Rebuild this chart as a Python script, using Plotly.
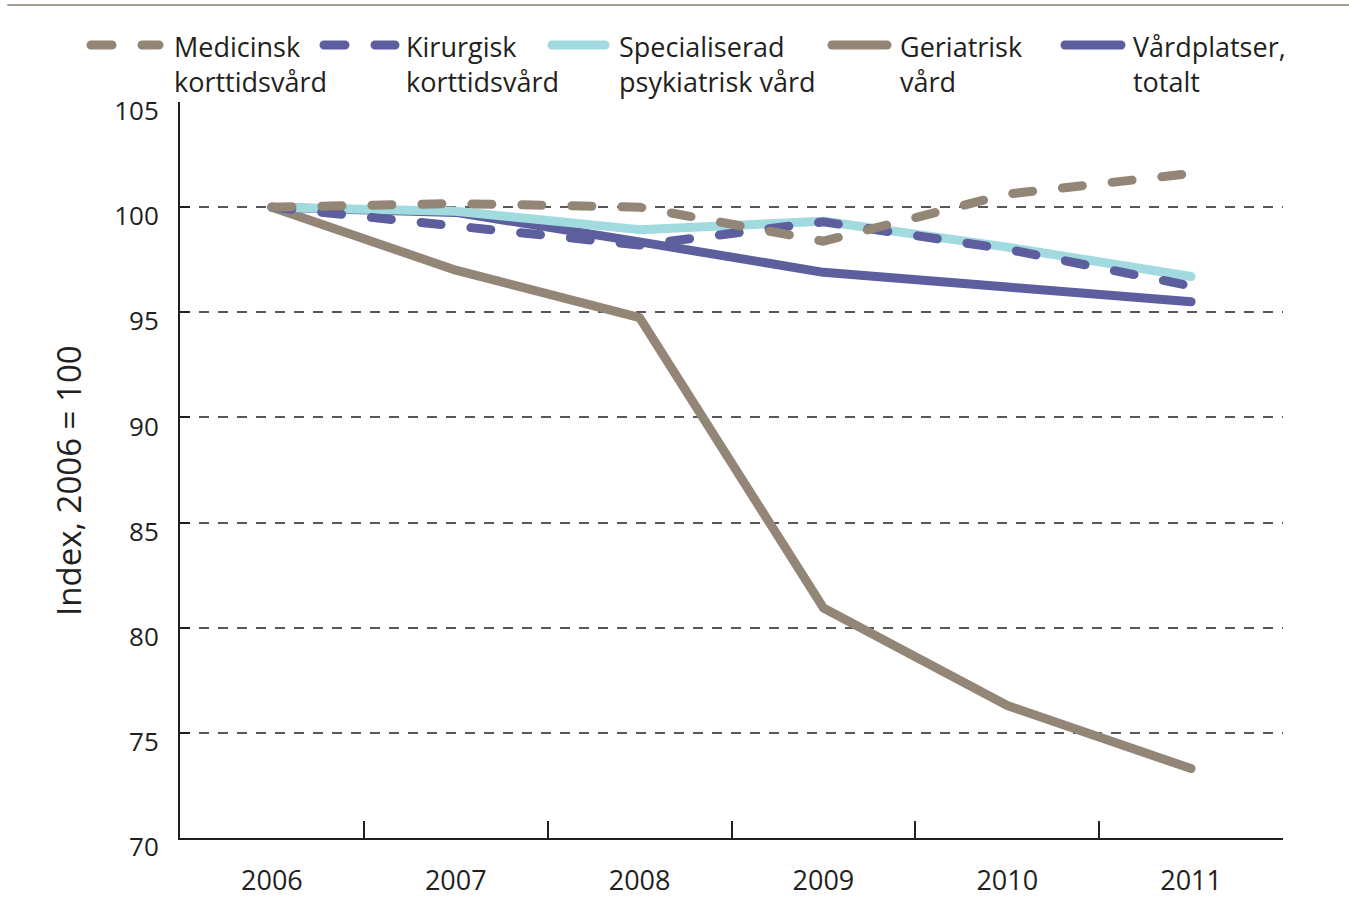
import plotly.graph_objects as go

years = ["2006", "2007", "2008", "2009", "2010", "2011"]
medicinsk = [100.0, 100.17, 100.0, 98.38, 100.62, 101.6]
kirurgisk = [100.0, 99.1, 98.2, 99.3, 98.0, 96.25]
specialiserad = [100.0, 99.8, 98.93, 99.33, 98.1, 96.7]
geriatrisk = [100.0, 97.0, 94.75, 80.94, 76.3, 73.3]
totalt = [100.0, 99.75, 98.35, 96.9, 96.2, 95.5]

series_names = ["Medicinsk<br>korttidsvård", "Kirurgisk<br>korttidsvård",
                "Specialiserad<br>psykiatrisk vård", "Geriatrisk<br>vård",
                "Vårdplatser,<br>totalt"]
y_ticks = [70, 75, 80, 85, 90, 95, 100, 105]

BROWN = "#938677"
BLUE = "#5c5e9e"
CYAN = "#a1dadf"
TEXT = "#231f20"
FONT = "Open Sans"

W, H = 1349, 905
L, R, T, B = 180, 66, 102, 67
PW = W - L - R
PH = H - T - B


def px2x(px):
    return (px - L) / PW


def px2y(py):
    return (H - B - py) / PH


fig = go.Figure()

# draw order: bottom -> top
order = [
    (3, geriatrisk, BROWN, "solid"),
    (4, totalt, BLUE, "solid"),
    (2, specialiserad, CYAN, "solid"),
    (1, kirurgisk, BLUE, "20px,30px"),
    (0, medicinsk, BROWN, "20px,30px"),
]
for idx, vals, col, dash in order:
    fig.add_trace(go.Scatter(
        x=years, y=vals, mode="lines", name=series_names[idx].replace("<br>", " "),
        line=dict(color=col, width=9, dash=dash),
        showlegend=False, hoverinfo="skip",
    ))

# custom legend
legend_items = [
    (series_names[0], BROWN, "21px,30px", 91, 159, 172),
    (series_names[1], BLUE, "21px,30px", 324, 395, 404),
    (series_names[2], CYAN, "solid", 552, 605, 617),
    (series_names[3], BROWN, "solid", 832, 887, 898),
    (series_names[4], BLUE, "solid", 1065, 1121, 1131),
]
shapes = []
annotations = []
for text, col, dash, x0, x1, tx in legend_items:
    shapes.append(dict(type="line", xref="paper", yref="paper",
                       x0=px2x(x0), x1=px2x(x1), y0=px2y(45), y1=px2y(45),
                       line=dict(color=col, width=9, dash=dash)))
    annotations.append(dict(text=text, xref="paper", yref="paper",
                            x=px2x(tx), y=px2y(64), xanchor="left", yanchor="middle",
                            align="left", showarrow=False,
                            font=dict(family=FONT, size=27, color=TEXT)))

# top rule
shapes.append(dict(type="line", xref="paper", yref="paper",
                   x0=px2x(8), x1=px2x(1349), y0=px2y(5), y1=px2y(5),
                   line=dict(color="#a89e94", width=2)))

# y-axis title
annotations.append(dict(text="Index, 2006 = 100", xref="paper", yref="paper",
                        x=px2x(68), y=px2y(481), xanchor="center", yanchor="middle",
                        textangle=-90, showarrow=False,
                        font=dict(family=FONT, size=33, color=TEXT)))

fig.update_layout(
    width=W, height=H,
    margin=dict(l=L, r=R, t=T, b=B, autoexpand=False),
    plot_bgcolor="white", paper_bgcolor="white",
    font=dict(family=FONT, color=TEXT),
    shapes=shapes, annotations=annotations,
    showlegend=False,
    xaxis=dict(
        type="category", range=[-0.5, 5.5], tickson="boundaries",
        ticks="inside", ticklen=17, tickwidth=2, tickcolor=TEXT,
        showline=True, linecolor=TEXT, linewidth=2,
        showgrid=False, zeroline=False,
        tickfont=dict(family=FONT, size=27, color=TEXT),
        ticklabelstandoff=18,
    ),
    yaxis=dict(
        range=[70, 105], tickvals=y_ticks, ticktext=[str(v) for v in y_ticks],
        ticks="inside", ticklen=10, tickwidth=2, tickcolor=TEXT,
        showline=True, linecolor=TEXT, linewidth=2,
        showgrid=True, gridcolor="#58585a", gridwidth=1.5, griddash="10px,9px",
        zeroline=False,
        tickfont=dict(family=FONT, size=26, color=TEXT),
        ticklabelstandoff=14, ticklabelshift=9,
    ),
)

post = """
document.body.style.margin='0';
document.querySelectorAll('.scatterlayer path.js-line').forEach(function(p){p.style.strokeLinecap='round';p.style.strokeLinejoin='round';});
document.querySelectorAll('.shapelayer path').forEach(function(p){p.style.strokeLinecap='round';});
"""
fig.write_html("out.html", post_script=post, config={"displayModeBar": False})
